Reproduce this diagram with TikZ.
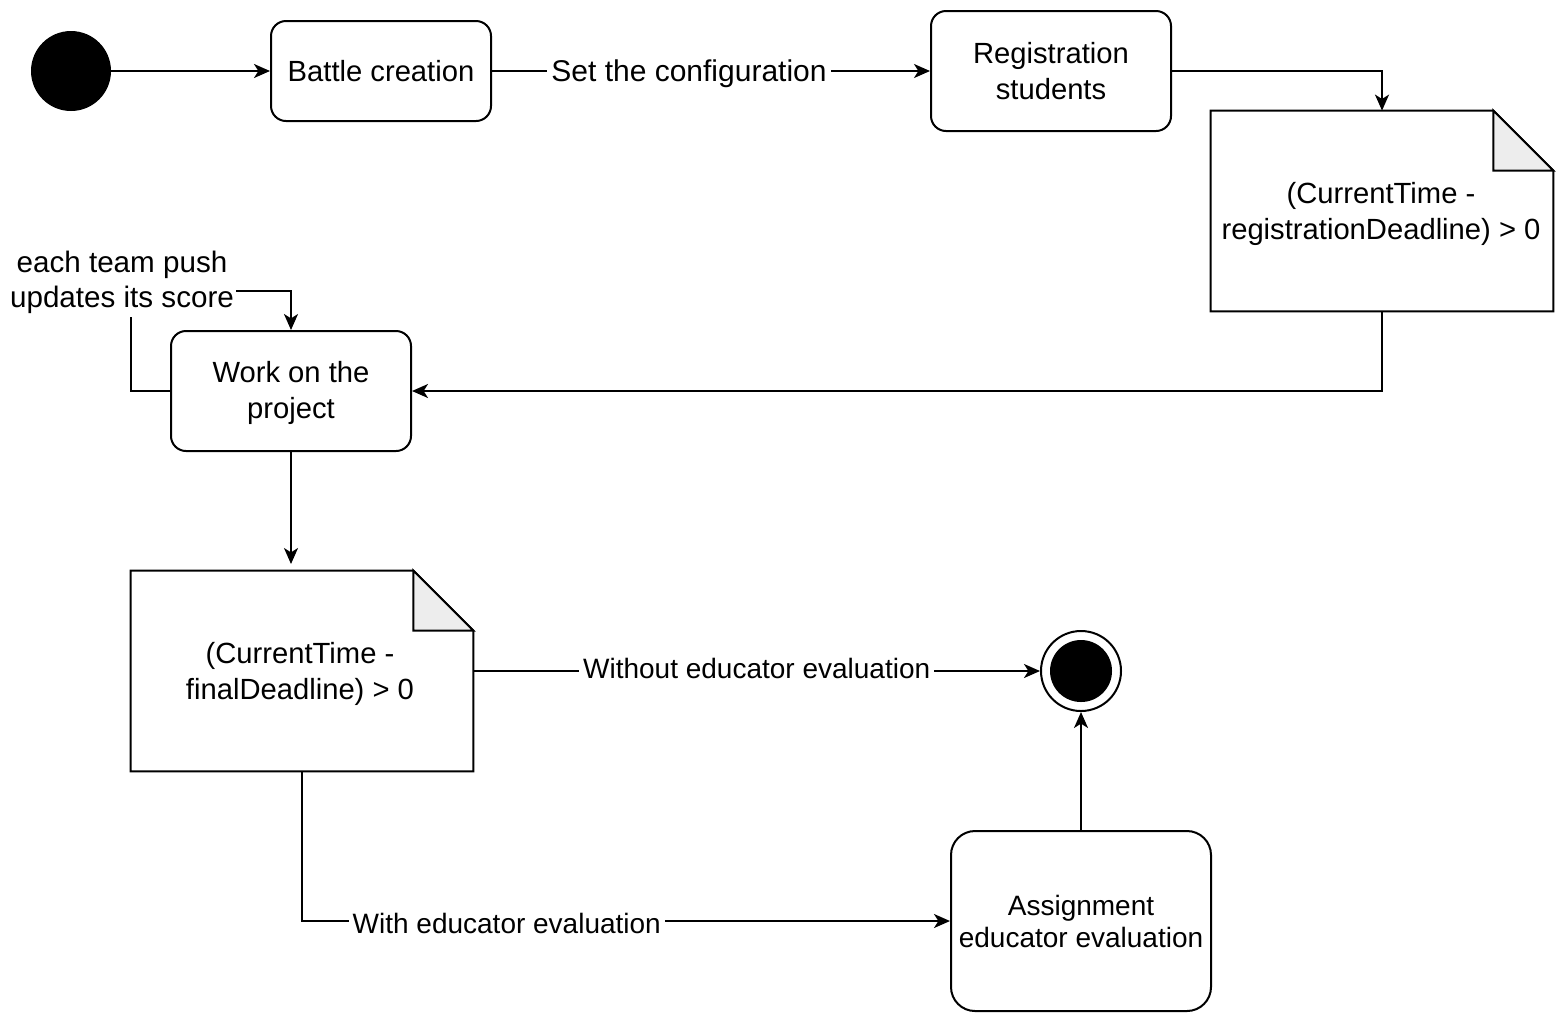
\documentclass[tikz,border=0pt]{standalone}
\usepackage{fontspec}
\setmainfont{Liberation Sans}
\usetikzlibrary{arrows.meta,calc}
\begin{document}
\begin{tikzpicture}[x=0.5pt,y=-0.5pt,
  every node/.style={font=\fontsize{14.6}{18}\selectfont},
  state/.style={draw, line width=1pt, rounded corners=7.5pt, align=center, inner sep=0pt},
  notebox/.style={inner sep=0pt, align=center},
  edgelabel/.style={fill=white, inner xsep=2pt, inner ysep=1pt, font=\fontsize{14}{17}\selectfont},
  flow/.style={draw, line width=1pt, -{Stealth[length=8pt,width=7pt,inset=2.2pt]}},
  noteline/.style={line width=1pt, line join=miter},
  fold/.style={fill=black!7, line width=1pt, line join=miter}
]
\useasboundingbox (0,0) rectangle (1566,1024);

% nodes
\node[circle, fill=black, minimum size=40pt, inner sep=0pt] (start) at (71,71) {};
\node[state, minimum width=110pt, minimum height=50pt] (battle) at (381,71) {Battle creation};
\node[state, minimum width=120pt, minimum height=60pt] (reg) at (1051,71) {Registration\\students};
\node[notebox, minimum width=171pt, minimum height=100pt] (note1) at (1382,211) {};
\node[align=center, inner sep=0pt] (note1text) at (1381,214) {(CurrentTime -\\registrationDeadline) > 0};
\node[state, minimum width=120pt, minimum height=60pt] (work) at (291,391) {};
\node[align=center, inner sep=0pt] (worktext) at (291,393) {Work on the\\project};
\node[notebox, minimum width=171pt, minimum height=100pt] (note2) at (302,671) {};
\node[align=center, inner sep=0pt] (note2text) at (300,674) {(CurrentTime -\\finalDeadline) > 0};
\node[circle, draw, line width=1pt, minimum size=40pt, inner sep=0pt] (final) at (1081,671) {};
\fill (final.center) circle (15.5pt);
\node[state, rounded corners=12pt, minimum width=130pt, minimum height=90pt, font=\fontsize{14}{16}\selectfont] (assign) at (1081,921) {Assignment\\educator evaluation};

% note outlines
\foreach \n in {note1,note2}{
  \draw[noteline] (\n.north west) -- ($(\n.north east)+(-60,0)$) -- ($(\n.north east)+(0,60)$) -- (\n.south east) -- (\n.south west) -- cycle;
  \draw[fold] ($(\n.north east)+(-60,0)$) -- ($(\n.north east)+(-60,60)$) -- ($(\n.north east)+(0,60)$) -- cycle;
}

% connectors
\draw[flow] (start) -- (battle);
\draw[flow] (battle) -- node[edgelabel, xshift=-11pt, yshift=-1.5pt, font=\fontsize{15}{18}\selectfont]{Set the configuration} (reg);
\draw[flow] (reg.east) -| (note1.north);
\draw[flow] (note1.south) |- (work.east);

\coordinate (loopA) at (131,391);
\coordinate (loopB) at (131,291);
\coordinate (loopC) at (291,291);
\draw[flow] (work.west) -- (loopA) -- (loopB) -- (loopC) -- (work.north);
\node[fill=white, align=center, inner xsep=1pt, inner ysep=2pt, font=\fontsize{14.8}{17.5}\selectfont] (looplabel) at (122,282) {each team push\\updates its score};

\coordinate (w2) at (291,564);
\draw[flow] (work.south) -- (w2);
\draw[flow] (note2.east) -- node[edgelabel, yshift=1.5pt]{Without educator evaluation} (final);
\draw[flow] (note2.south) |- node[edgelabel, pos=0.658, yshift=-1pt]{With educator evaluation} (assign.west);
\draw[flow] (assign.north) -- (final.south);
\end{tikzpicture}
\end{document}
